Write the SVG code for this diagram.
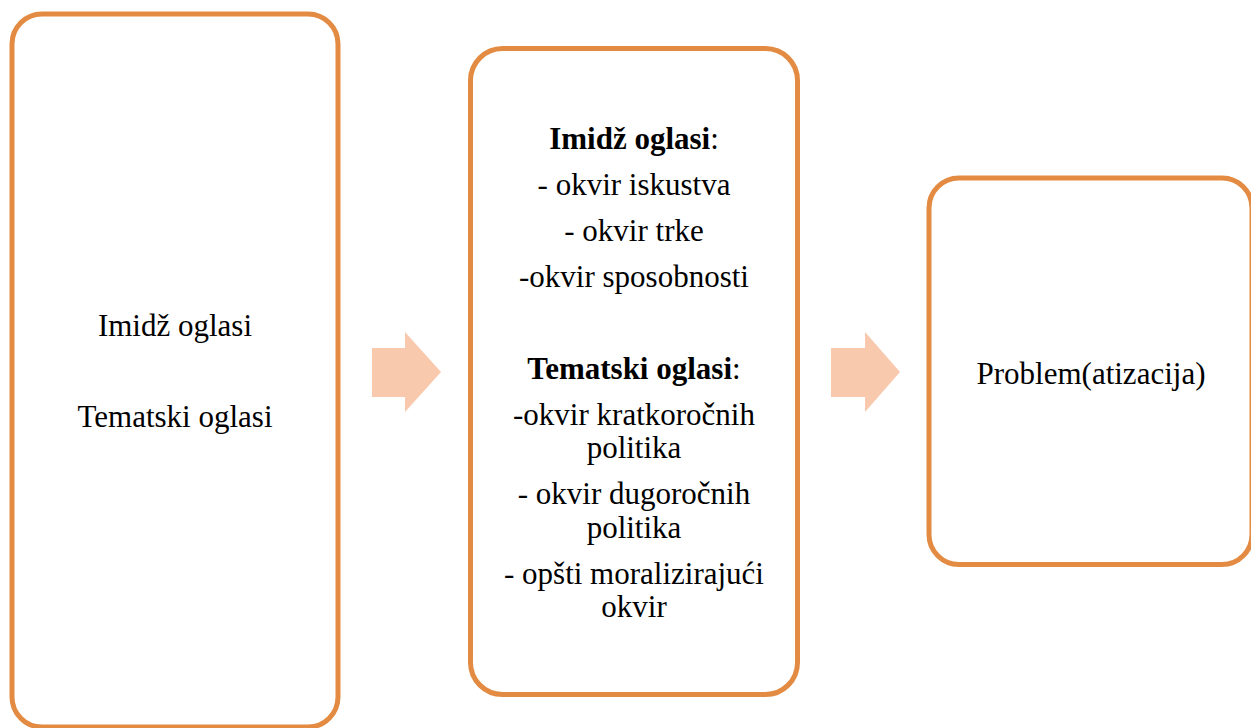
<svg xmlns="http://www.w3.org/2000/svg" width="1251" height="728" viewBox="0 0 1251 728">
<style>
.box{fill:#fff;stroke:#E38B42;stroke-width:5}
.arr{fill:#F9C9AD;stroke:none}
.t{font-family:'Liberation Serif','Times New Roman',serif;font-size:31px;text-anchor:middle;fill:#000}
.b{font-weight:bold}
</style>
<rect width="1251" height="728" fill="#fff"/>
<g id="connectors">
<polygon class="arr" points="372,348 405,348 405,332 441,372 405,412 405,397 372,397"/>
<polygon class="arr" points="831,348 865,348 865,332 900,372 865,412 865,397 831,397"/>
</g>
<g id="node1">
<rect class="box" x="12" y="14" width="326" height="713" rx="30" ry="30"/>
<text class="t" x="175" y="336">Imidž oglasi</text>
<text class="t" x="175" y="427">Tematski oglasi</text>
</g>
<g id="node2">
<rect class="box" x="470.5" y="48.5" width="327" height="646" rx="32" ry="32"/>
<text class="t" x="634" y="149"><tspan class="b">Imidž oglasi</tspan>:</text>
<text class="t" x="634" y="195">- okvir iskustva</text>
<text class="t" x="634" y="241">- okvir trke</text>
<text class="t" x="634" y="287">-okvir sposobnosti</text>
<text class="t" x="634" y="379"><tspan class="b">Tematski oglasi</tspan>:</text>
<text class="t" x="634" y="425">-okvir kratkoročnih</text>
<text class="t" x="634" y="458">politika</text>
<text class="t" x="634" y="504">- okvir dugoročnih</text>
<text class="t" x="634" y="538">politika</text>
<text class="t" x="634" y="584">- opšti moralizirajući</text>
<text class="t" x="634" y="617">okvir</text>
</g>
<g id="node3">
<rect class="box" x="929" y="178" width="323" height="386.5" rx="30" ry="30"/>
<text class="t" x="1091" y="384">Problem(atizacija)</text>
</g>
</svg>
